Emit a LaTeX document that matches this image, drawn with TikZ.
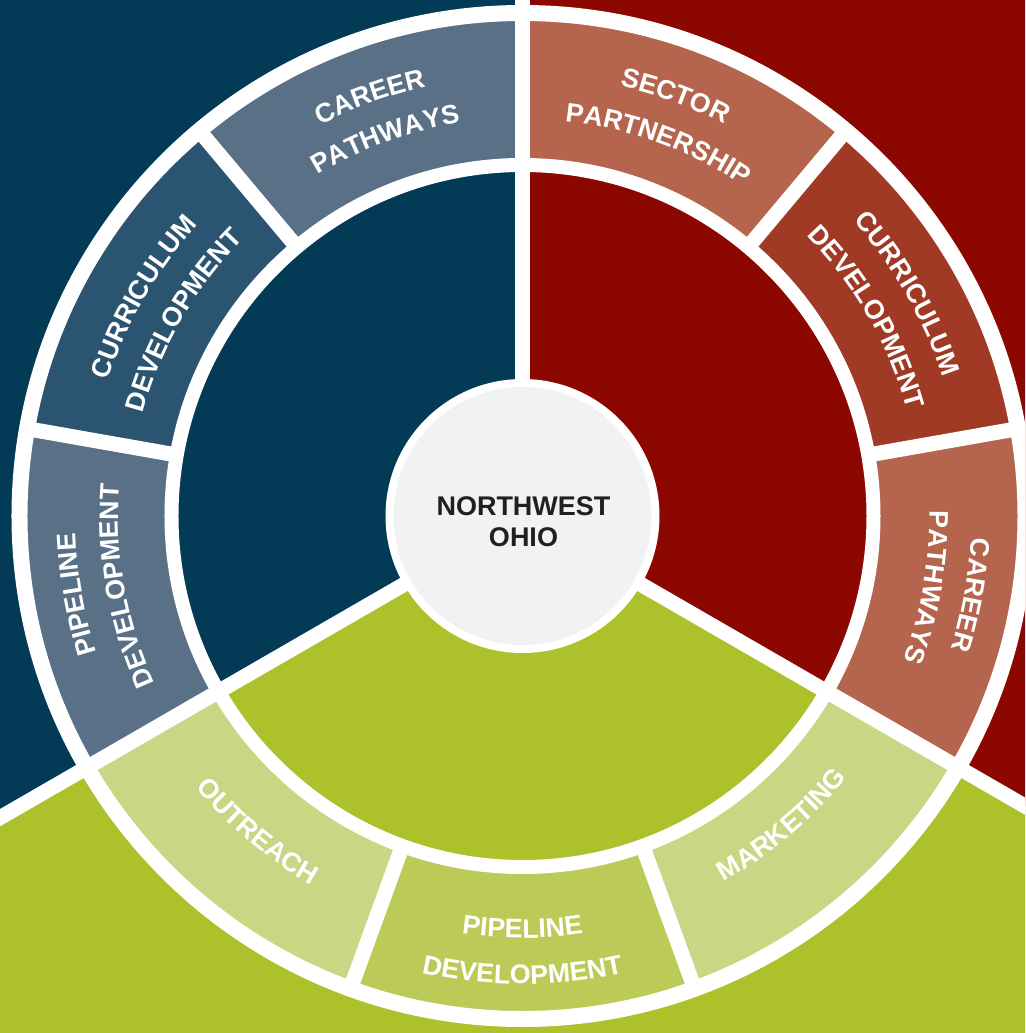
\documentclass[tikz,border=0pt]{standalone}
\usepackage{fontspec}
\setmainfont{Liberation Sans}
\usetikzlibrary{decorations.text}
\definecolor{bgblue}{HTML}{033A55}
\definecolor{blueA}{HTML}{5A7087}
\definecolor{blueB}{HTML}{2B5470}
\definecolor{bgred}{HTML}{8B0700}
\definecolor{redA}{HTML}{B5654D}
\definecolor{redB}{HTML}{A03A25}
\definecolor{bggreen}{HTML}{ADC12B}
\definecolor{greenA}{HTML}{C9D683}
\definecolor{greenB}{HTML}{BCCA57}
\definecolor{hubgray}{HTML}{F1F2F4}
\definecolor{hubtext}{HTML}{231F20}
\newcommand{\lblfmt}{\bfseries\fontsize{26.8}{31}\selectfont\color{white}}
% outward-facing label (clockwise arc)
\newcommand{\outlbl}[3]{%
  \path[decorate,decoration={text along path,text align=center,text={|\lblfmt|#3}}]
    ({#1+20}:#2) arc[start angle={#1+20},end angle={#1-20},radius=#2];}
% inward-facing label (counter-clockwise arc)
\newcommand{\inlbl}[3]{%
  \path[decorate,decoration={text along path,text align=center,text={|\lblfmt|#3}}]
    ({#1-20}:#2) arc[start angle={#1-20},end angle={#1+20},radius=#2];}
\newcommand{\ringseg}[3]{%
  \fill[#3] (#1:357) arc[start angle=#1,end angle=#2,radius=357]
    -- (#2:496) arc[start angle=#2,end angle=#1,radius=496] -- cycle;}
\tikzset{
  divider/.style={draw=white,line width=15pt},
  ringline/.style={draw=white},
}
\begin{document}
\begin{tikzpicture}[x=1pt,y=1pt]
\coordinate (c) at (0,0);
\useasboundingbox (-522.5,-517) rectangle (502.5,516);
\begin{scope}
\clip (-522.5,-517) rectangle (502.5,516);
% backgrounds
\fill[bgblue] (-522.5,-517) rectangle (502.5,516);
\fill[bgred] (c) -- (90:1500) -- (30:1500) -- (-30:1500) -- cycle;
\fill[bggreen] (c) -- (210:1500) -- (270:1500) -- (330:1500) -- cycle;
% outer ring segments
\ringseg{90}{130}{blueA}
\ringseg{130}{170}{blueB}
\ringseg{170}{210}{blueA}
\ringseg{-30}{10}{redA}
\ringseg{10}{50}{redB}
\ringseg{50}{90}{redA}
\ringseg{210}{250}{greenA}
\ringseg{250}{290}{greenB}
\ringseg{290}{330}{greenA}
% segment dividers
\foreach \a in {130,170,10,50,250,290}
  \draw[divider] (\a:350) -- (\a:504);
% white rings
\draw[ringline,line width=16pt] (c) circle[radius=503];
\draw[ringline,line width=14pt] (c) circle[radius=351];
% main dividers
\draw[divider] (c) -- (90:1500);
\draw[divider] (c) -- (210:1500);
\draw[divider] (c) -- (330:1500);
% hub
\fill[white] (c) circle[radius=137];
\fill[hubgray] (c) circle[radius=129];
\end{scope}
\node[align=center,text=hubtext,font=\bfseries\fontsize{27}{31}\selectfont,inner sep=0pt] (hub) at (1,-6) {NORTHWEST\\OHIO};
% blue labels
\outlbl{110}{440}{CAREER}
\outlbl{110}{398}{PATHWAYS}
\outlbl{150}{436}{CURRICULUM}
\outlbl{150}{393}{DEVELOPMENT}
\outlbl{190}{447}{PIPELINE}
\outlbl{190}{404}{DEVELOPMENT}
% red labels
\outlbl{70}{441}{SECTOR}
\outlbl{70}{397}{PARTNERSHIP}
\outlbl{30}{443}{CURRICULUM}
\outlbl{30}{399}{DEVELOPMENT}
\outlbl{-10}{449}{CAREER}
\outlbl{-10}{407}{PATHWAYS}
% green labels
\inlbl{230}{425}{OUTREACH}
\inlbl{270}{422}{PIPELINE}
\inlbl{270}{468}{DEVELOPMENT}
\inlbl{310}{417}{MARKETING}
\end{tikzpicture}
\end{document}
